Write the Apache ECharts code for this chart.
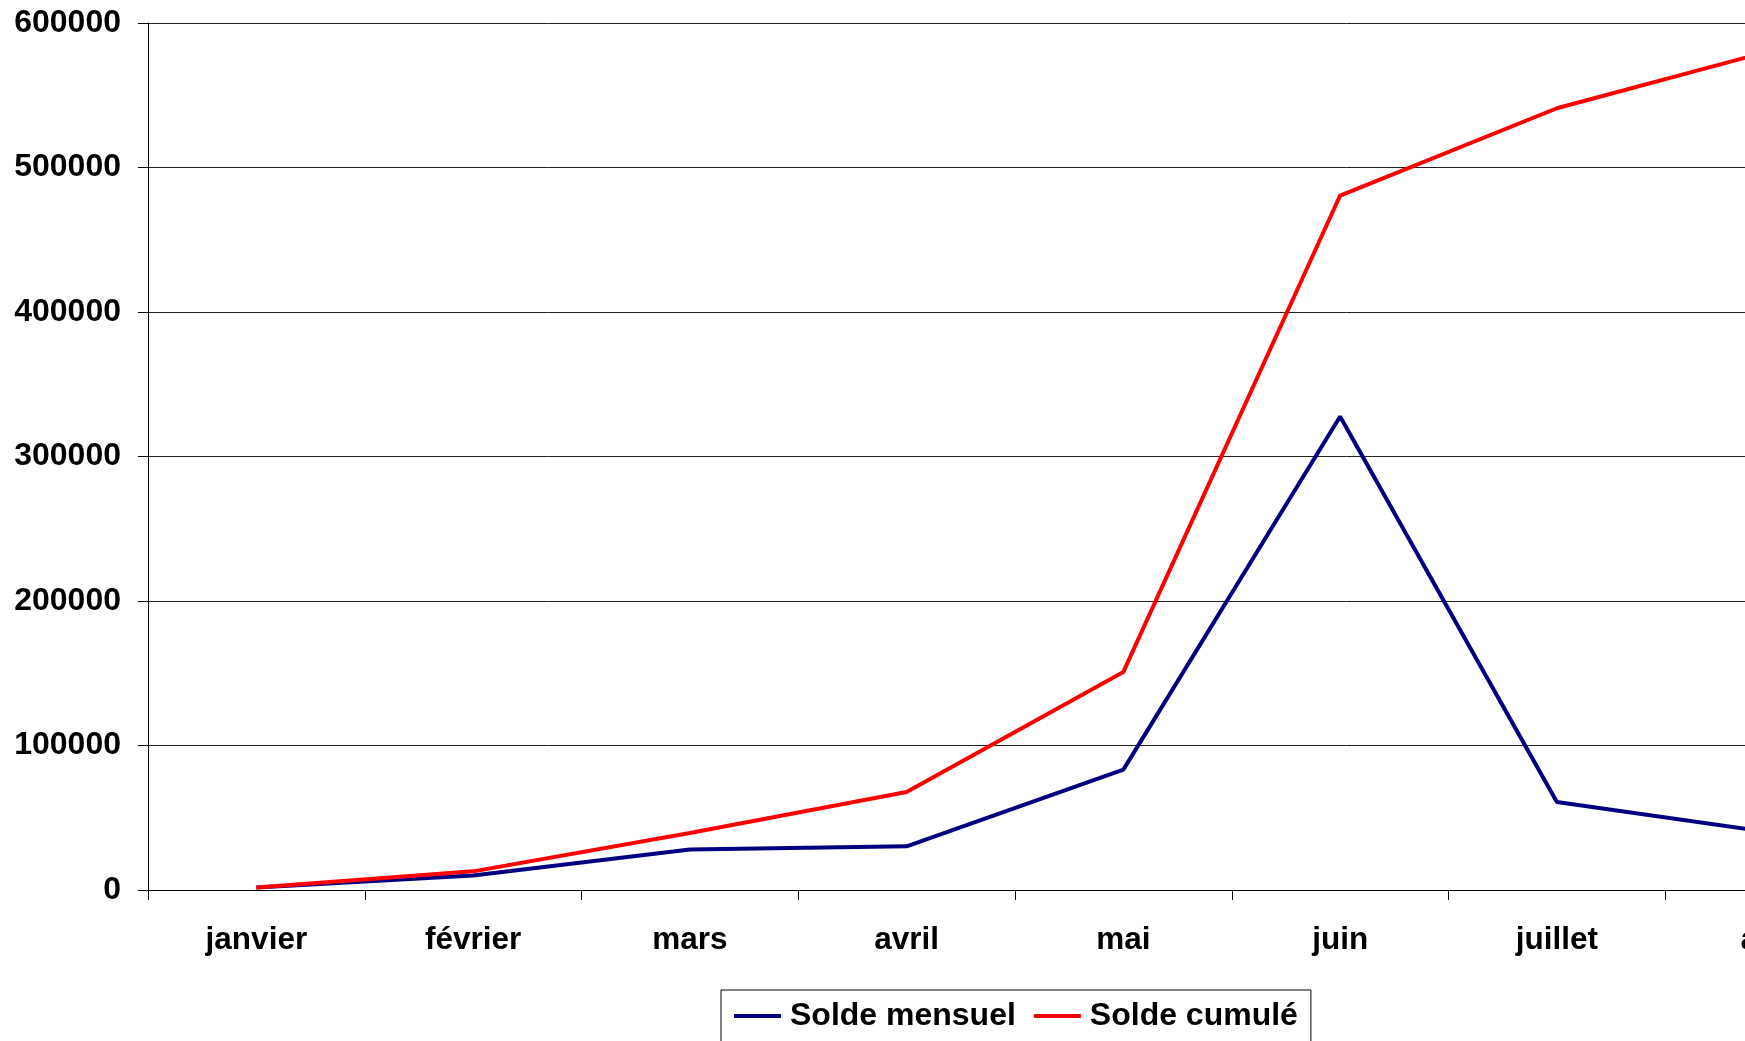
<!DOCTYPE html>
<html>
<head>
<meta charset="utf-8">
<script src="https://cdn.jsdelivr.net/npm/echarts@6/dist/echarts.min.js"></script>
<style>
html,body{margin:0;padding:0;background:#fff;}
#chart{width:1745px;height:1041px;}
</style>
</head>
<body>
<div id="chart"></div>
<script>
const months = ['janvier','février','mars','avril','mai','juin','juillet','août'];
const soldeMensuel = [1800, 10100, 28100, 30200, 83300, 327700, 60900, 39600];
const soldeCumule = [1800, 12900, 39500, 67800, 150900, 480600, 541000, 581300];
const seriesNames = ['Solde mensuel', 'Solde cumulé'];

const FONT = '"Liberation Sans", Arial, sans-serif';
const chart = echarts.init(document.getElementById('chart'), null, {renderer: 'canvas'});
chart.setOption({
  animation: false,
  backgroundColor: '#ffffff',
  textStyle: {fontFamily: FONT},
  grid: {left: 148, top: 23, width: 1734, height: 867, containLabel: false, outerBoundsMode: 'none'},
  legend: {
    left: 721, top: 990,
    data: seriesNames,
    icon: 'rect',
    itemWidth: 47, itemHeight: 4,
    itemGap: 18,
    padding: [10, 13, 12, 13],
    borderColor: '#000', borderWidth: 1,
    textStyle: {fontFamily: FONT, fontSize: 32, fontWeight: 'bold', color: '#000', padding: [0, 0, 0, 4]}
  },
  xAxis: {
    type: 'category',
    data: months,
    boundaryGap: true,
    axisLine: {lineStyle: {color: '#000', width: 1}},
    axisTick: {show: true, length: 10, alignWithLabel: false, lineStyle: {color: '#000'}},
    axisLabel: {margin: 34, fontFamily: FONT, fontSize: 31.5, fontWeight: 'bold', color: '#000', interval: 0},
    splitLine: {show: false}
  },
  yAxis: {
    type: 'value',
    min: 0, max: 600000, interval: 100000,
    axisLine: {show: true, lineStyle: {color: '#000', width: 1}},
    axisTick: {show: true, length: 10, lineStyle: {color: '#000'}},
    axisLabel: {margin: 27, fontFamily: FONT, fontSize: 32, fontWeight: 'bold', color: '#000',
                formatter: function (v) { return String(v); }},
    splitLine: {show: true, lineStyle: {color: '#222', width: 1}}
  },
  series: [
    {name: seriesNames[0], type: 'line', data: soldeMensuel, symbol: 'none',
     color: '#000080', lineStyle: {color: '#000080', width: 4}},
    {name: seriesNames[1], type: 'line', data: soldeCumule, symbol: 'none',
     color: '#ff0000', lineStyle: {color: '#ff0000', width: 4}}
  ]
});
</script>
</body>
</html>
